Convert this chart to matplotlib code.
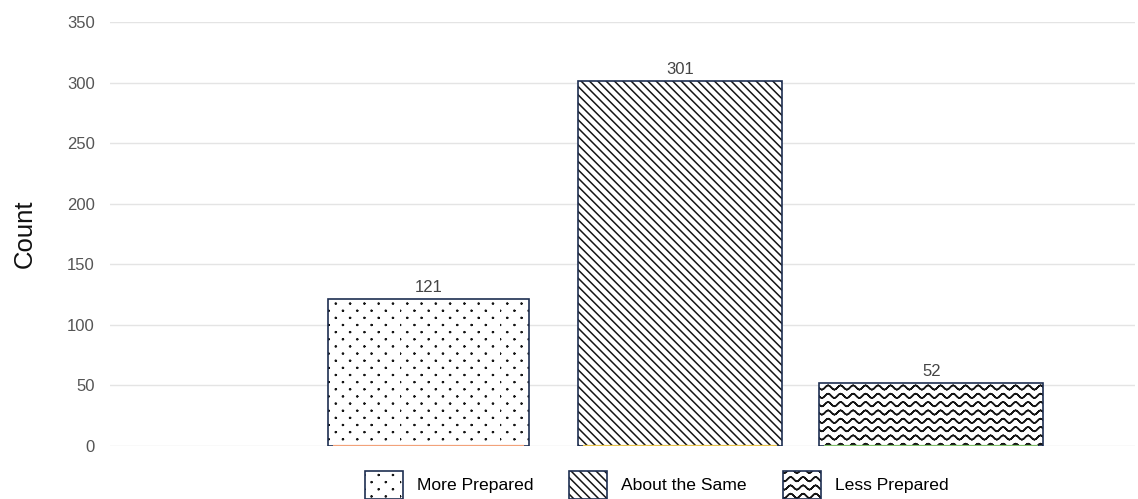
import numpy as np
import matplotlib
matplotlib.use("Agg")
import matplotlib.pyplot as plt
import matplotlib.hatch as mhatch
from matplotlib.colors import to_rgba
from matplotlib.path import Path

categories = ["More Prepared", "About the Same", "Less Prepared"]
counts = [121, 301, 52]

hatches = [":", "\\\\\\\\", "~~"]
widths = [0.80, 0.81, 0.89]
base_colors = ["#f2a27a", "#e8c34a", "#7fbf6a"]
edge = "#1e2f52"


# custom hatch patterns: staggered small dots (':') and waves ('~')
class DotHatch(mhatch.HatchPatternBase):
    nseg = 8

    def __init__(self, hatch, density):
        self.rows = 14 if hatch.count(":") else 0
        self.cols = 7
        self.num_vertices = self.rows * self.cols * (self.nseg + 1)

    def set_vertices_and_codes(self, vertices, codes):
        r = 0.0045
        t = np.linspace(0, 2 * np.pi, self.nseg + 1)
        k = 0
        for i in range(self.rows):
            off = 0.5 if i % 2 else 0.0
            for j in range(self.cols):
                cx = (j + off) / self.cols
                cy = (i + 0.5) / self.rows
                vertices[k:k + self.nseg + 1, 0] = cx + r * np.cos(t)
                vertices[k:k + self.nseg + 1, 1] = cy + r * np.sin(t)
                codes[k] = Path.MOVETO
                codes[k + 1:k + self.nseg + 1] = Path.LINETO
                k += self.nseg + 1


class WaveHatch(mhatch.HatchPatternBase):
    npts = 65

    def __init__(self, hatch, density):
        self.num_lines = hatch.count("~") * density
        self.num_vertices = self.num_lines * self.npts * 2

    def set_vertices_and_codes(self, vertices, codes):
        xs = np.linspace(0, 1, self.npts)
        xs = np.concatenate([xs, xs[::-1]])  # go and come back: no filled area
        k = 0
        n = len(xs)
        for i in range(self.num_lines):
            y0 = (i + 0.5) / self.num_lines
            vertices[k:k + n, 0] = xs
            vertices[k:k + n, 1] = y0 + 0.022 * np.sin(2 * np.pi * 8 * xs)
            codes[k] = Path.MOVETO
            codes[k + 1:k + n] = Path.LINETO
            k += n


mhatch._hatch_types.append(DotHatch)
mhatch._hatch_types.append(WaveHatch)
mhatch._validate_hatch_pattern = lambda h: None

plt.rcParams["font.family"] = ["Liberation Sans", "DejaVu Sans"]
plt.rcParams["hatch.linewidth"] = 1.1

fig = plt.figure(figsize=(11.38, 4.99), dpi=100)
ax = fig.add_axes([110 / 1138, 1 - 446 / 499, 1025 / 1138, 424 / 499])

x = np.arange(len(categories))
for i in range(len(categories)):
    b = ax.bar(x[i], counts[i], width=widths[i], facecolor="white",
               edgecolor=edge, linewidth=1.2, hatch=hatches[i],
               label=categories[i], zorder=2)
    for p in b.patches:
        p._hatch_color = to_rgba("#151515")
    ax.hlines(0, x[i] - widths[i] / 2 + 0.02, x[i] + widths[i] / 2 - 0.02,
              color=base_colors[i], lw=1.6, zorder=3)
    ax.annotate(str(counts[i]), (x[i], counts[i]), xytext=(0, 3),
                textcoords="offset points", ha="center", va="bottom",
                fontsize=12, color="#444444")

ax.set_xlim(-1.265, 2.81)
ax.set_ylim(0, 350)
ax.set_yticks(np.arange(0, 351, 50))
ax.set_xticks([])
ax.grid(axis="y", color="#e4e4e4", lw=1, zorder=0)
ax.set_axisbelow(True)
for s in ax.spines.values():
    s.set_visible(False)
ax.tick_params(axis="y", length=0, pad=10.8, labelsize=12, labelcolor="#555555")
ax.set_ylabel("Count", fontsize=18.5, color="#111111")
ax.yaxis.set_label_coords(-73 / 1025, 0.5)

fig.legend(loc="center", bbox_to_anchor=(656.5 / 1138, 14 / 499), ncol=3,
           frameon=False, fontsize=12.6, handlelength=2.17, handleheight=2.17,
           handletextpad=0.8, columnspacing=2.06)

fig.savefig("out.png", dpi=100)
